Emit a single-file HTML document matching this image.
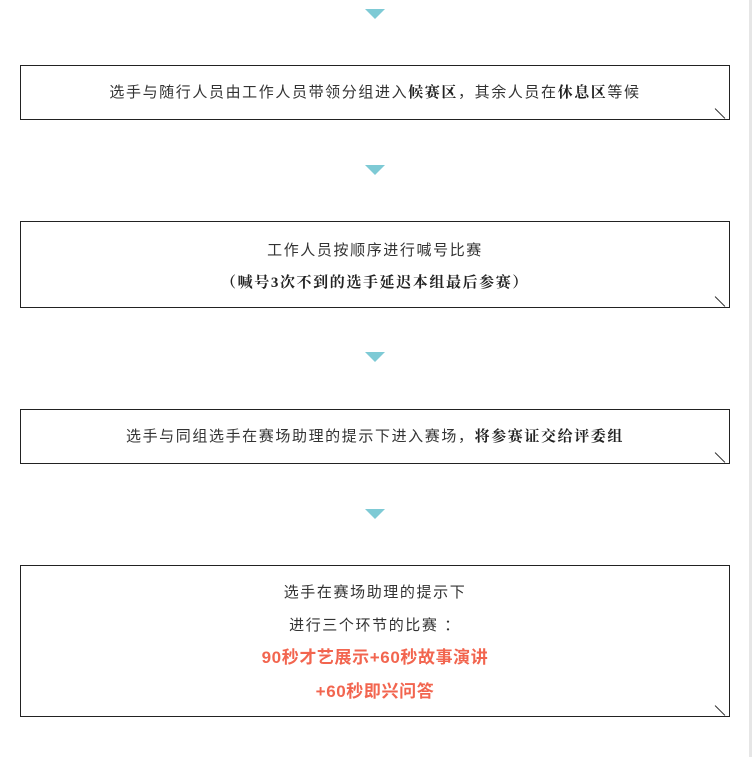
<!DOCTYPE html>
<html><head><meta charset="utf-8"><style>
body{margin:0;width:752px;height:757px;background:#fff;position:relative;overflow:hidden;font-family:"Liberation Sans","Noto Sans CJK SC",sans-serif;color:#333;font-size:15px;letter-spacing:1.6px}
.bar{position:absolute;left:749px;top:0;width:3px;height:757px;background:#e6e6e6}
.tri{position:absolute;left:365px;width:0;height:0;border-left:10px solid transparent;border-right:10px solid transparent;border-top:10px solid #7ecad5}
.box{position:absolute;left:20px;width:710px;border:1px solid #222;text-align:center;box-sizing:border-box}
.box::after{content:"";position:absolute;right:2px;bottom:5px;width:14px;height:1px;background:#222;transform:rotate(45deg)}
b{font-weight:bold;color:#222;font-family:"Liberation Serif","Noto Serif CJK SC",serif}
.r{color:#f2654f;font-weight:bold;font-size:17px;letter-spacing:0.6px}
</style></head><body>
<div class="bar"></div>
<div class="tri" style="top:9px"></div>
<div class="box" style="top:65px;height:55px;line-height:53px">选手与随行人员由工作人员带领分组进入<b>候赛区</b>，其余人员在<b>休息区</b>等候</div>
<div class="tri" style="top:165px"></div>
<div class="box" style="top:221px;height:87px;padding-top:13px;line-height:32px">工作人员按顺序进行喊号比赛<br><b>（喊号3次不到的选手延迟本组最后参赛）</b></div>
<div class="tri" style="top:352px"></div>
<div class="box" style="top:409px;height:55px;line-height:53px">选手与同组选手在赛场助理的提示下进入赛场，<b>将参赛证交给评委组</b></div>
<div class="tri" style="top:509px"></div>
<div class="box" style="top:565px;height:152px;padding-top:11px;line-height:32.5px">选手在赛场助理的提示下<br>进行三个环节的比赛 ：<br><span class="r">90秒才艺展示+60秒故事演讲</span><br><span class="r">+60秒即兴问答</span></div>
</body></html>
